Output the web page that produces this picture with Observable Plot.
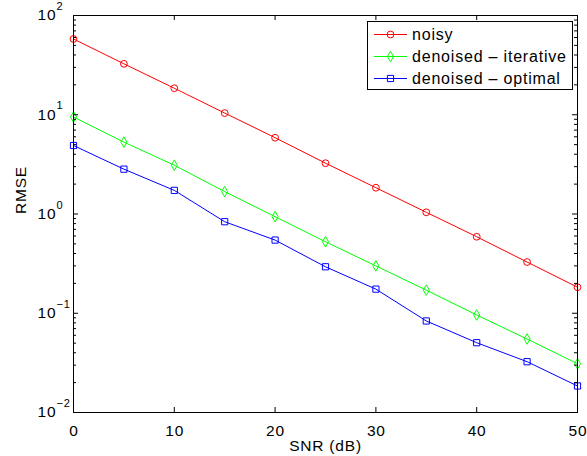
<!DOCTYPE html>
<html><head><meta charset="utf-8">
<script src="https://cdn.jsdelivr.net/npm/d3@7"></script>
<script src="https://cdn.jsdelivr.net/npm/@observablehq/plot@0.6"></script>
<style>
body{margin:0;background:#fff}
#chart{width:587px;height:456px}
svg text{letter-spacing:0.8px}
</style></head><body><div id="chart"></div>
<script>
const snr = [0, 5, 10, 15, 20, 25, 30, 35, 40, 45, 50];
const noisy = [58, 32.6, 18.5, 10.4, 5.87, 3.25, 1.84, 1.04, 0.59, 0.328, 0.183];
const iterative = [9.5, 5.3, 3.1, 1.68, 0.94, 0.525, 0.30, 0.171, 0.096, 0.055, 0.031];
const optimal = [4.9, 2.83, 1.73, 0.836, 0.546, 0.294, 0.175, 0.0836, 0.0505, 0.0325, 0.0185];
const seriesNames = ["noisy", "denoised \u2013 iterative", "denoised \u2013 optimal"];
const seriesColors = ["#ff0000", "#00ff00", "#0000ff"];
const seriesSymbols = ["circle", "diamond", "square"];
const seriesR = [3.4, 3.2, 3.5];
const xTicks = [0, 10, 20, 30, 40, 50];
const yTicks = [100, 10, 1, 0.1, 0.01];
const yMinor = [];
for (const d of [0.01, 0.1, 1, 10]) for (let k = 2; k <= 9; k++) yMinor.push(d * k);

const W = 587, H = 456, mL = 73, mR = 10, mT = 15, mB = 44;
const fw = W - mL - mR, fh = H - mT - mB;
const font = "'Liberation Sans', Arial, Helvetica, sans-serif";

const values = [noisy, iterative, optimal];
const table = [];
values.forEach((arr, i) => arr.forEach((v, j) => table.push({snr: snr[j], rmse: v, s: i})));

const marks = [];
values.forEach((arr, i) => {
  const rows = table.filter(d => d.s === i);
  marks.push(Plot.line(rows, {x: "snr", y: "rmse", stroke: seriesColors[i], strokeWidth: 1}));
  marks.push(Plot.dot(rows, {x: "snr", y: "rmse", stroke: seriesColors[i], fill: "none", symbol: seriesSymbols[i], r: seriesR[i], strokeWidth: 1}));
});
// ticks (inward, all four sides)
marks.push(
  Plot.tickX(xTicks, {x: d => d, insetTop: fh - 5, stroke: "black"}),
  Plot.tickX(xTicks, {x: d => d, insetBottom: fh - 5, stroke: "black"}),
  Plot.tickY(yTicks, {y: d => d, insetRight: fw - 5, stroke: "black"}),
  Plot.tickY(yTicks, {y: d => d, insetLeft: fw - 5, stroke: "black"}),
  Plot.tickY(yMinor, {y: d => d, insetRight: fw - 3, stroke: "black"}),
  Plot.tickY(yMinor, {y: d => d, insetLeft: fw - 3, stroke: "black"}),
  Plot.frame({stroke: "black", strokeWidth: 1})
);
// tick labels
marks.push(
  Plot.text(xTicks, {x: d => d, frameAnchor: "bottom", text: d => String(d), lineAnchor: "top", dy: 12, dx: 0.4, fontSize: 15.5, fill: "black"}),
  Plot.text(yTicks, {y: d => d, frameAnchor: "left", text: () => "10", textAnchor: "start", dx: -36, fontSize: 15.5, fill: "black"}),
  Plot.text(yTicks, {y: d => d, frameAnchor: "left", text: d => String(Math.round(Math.log10(d))).replace("-", "\u2212"), textAnchor: "start", dx: -17, dy: -9, fontSize: 11, fill: "black"}),
  Plot.text(["SNR (dB)"], {frameAnchor: "bottom", text: d => d, lineAnchor: "top", dy: 27, fontSize: 15.5, fill: "black"}),
  Plot.text(["RMSE"], {frameAnchor: "left", text: d => d, rotate: -90, dx: -52, fontSize: 15.5, fill: "black"})
);

const svg = Plot.plot({
  width: W, height: H,
  marginLeft: mL, marginRight: mR, marginTop: mT, marginBottom: mB,
  x: {domain: [0, 50], axis: null},
  y: {type: "log", domain: [0.01, 100], axis: null},
  style: {fontFamily: font, fontSize: "16px", background: "white", color: "black"},
  marks
});

// legend inside plot (top right)
const g = d3.select(svg).append("g").attr("font-family", font).attr("font-size", 16).attr("text-anchor", "start");
const bx = 367, by = 21, bw = 205, bh = 68;
g.append("rect").attr("x", bx + 0.5).attr("y", by + 0.5).attr("width", bw).attr("height", bh)
  .attr("fill", "white").attr("stroke", "black");
seriesNames.forEach((name, i) => {
  const cy = 34 + i * 22;
  g.append("line").attr("x1", 374).attr("x2", 407).attr("y1", cy + 0.5).attr("y2", cy + 0.5)
    .attr("stroke", seriesColors[i]);
  const sym = {circle: d3.symbolCircle, diamond: d3.symbolDiamond, square: d3.symbolSquare}[seriesSymbols[i]];
  g.append("path").attr("transform", `translate(390.5,${cy + 0.5})`)
    .attr("d", d3.symbol(sym, Math.PI * seriesR[i] * seriesR[i])())
    .attr("fill", "none").attr("stroke", seriesColors[i]);
  g.append("text").attr("x", 412).attr("y", cy).attr("dy", "0.35em").attr("text-anchor", "start")
    .attr("fill", "black").text(name);
});

document.getElementById("chart").appendChild(svg);
</script>
</body></html>
